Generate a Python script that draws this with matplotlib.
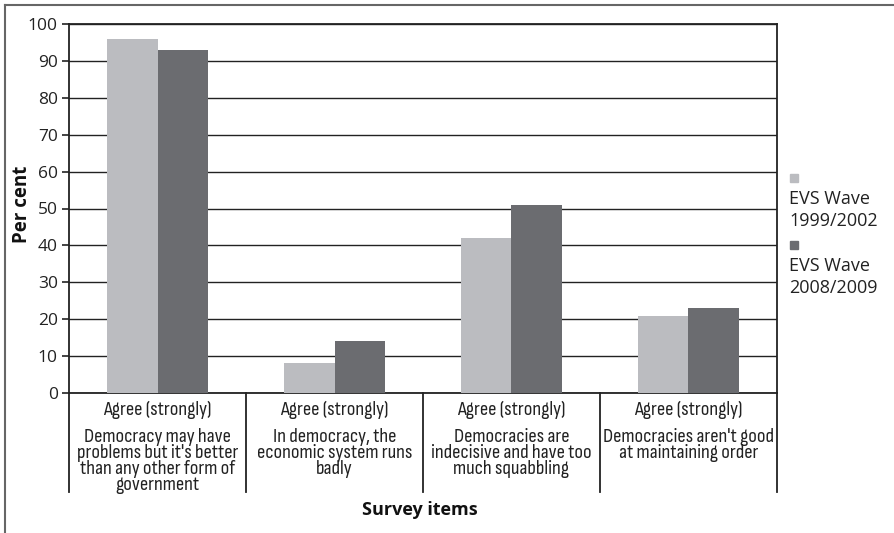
import matplotlib.pyplot as plt
from matplotlib.lines import Line2D
from matplotlib.transforms import blended_transform_factory

plt.rcParams['font.family'] = ['Open Sans', 'DejaVu Sans']
narrow = ['Sofia Sans Condensed', 'Sofia Sans Semi Condensed', 'DejaVu Sans']

items = [
    "Democracy may have\nproblems but it's better\nthan any other form of\ngovernment",
    "In democracy, the\neconomic system runs\nbadly",
    "Democracies are\nindecisive and have too\nmuch squabbling",
    "Democracies aren't good\nat maintaining order",
]
wave_1999 = [96, 8, 42, 21]
wave_2008 = [93, 14, 51, 23]
series_names = ['EVS Wave\n1999/2002', 'EVS Wave\n2008/2009']
colors = ['#bbbcc0', '#6b6c70']

fig = plt.figure(figsize=(8.95, 5.33), dpi=100)
ax = fig.add_axes([69 / 895, 1 - 393 / 533, 708 / 895, 369 / 533])

x = list(range(len(items)))
w = 0.285
ax.bar([i - w / 2 for i in x], wave_1999, w, color=colors[0], zorder=3)
ax.bar([i + w / 2 for i in x], wave_2008, w, color=colors[1], zorder=3)

ax.set_xlim(-0.5, len(items) - 0.5)
ax.set_ylim(0, 100)
ax.set_yticks(range(0, 101, 10))
ax.tick_params(axis='y', length=5, width=1.2, color='#222222', labelsize=12.5,
               labelcolor='#222222', pad=3)
ax.set_xticks([])
ax.grid(axis='y', color='#222222', linewidth=1.0, zorder=0)
for s in ax.spines.values():
    s.set_color('#222222')
    s.set_linewidth(1.3)

# category boxes below the axis
trans = blended_transform_factory(ax.transData, ax.transAxes)
drop = -(492 - 393) / 369
for b in [i - 0.5 for i in range(len(items) + 1)]:
    ax.add_line(Line2D([b, b], [0, drop], transform=trans, color='#222222',
                       linewidth=1.3, clip_on=False))
for i, txt in enumerate(items):
    ax.text(i, -(410 - 393) / 369, 'Agree (strongly)', transform=trans,
            ha='center', va='center', fontsize=14.8, family=narrow, color='#222222')
    ax.text(i, -(428 - 393) / 369, txt, transform=trans, ha='center', va='top',
            fontsize=14.8, family=narrow, color='#222222', linespacing=0.86)

fig.text(22 / 895, 1 - 204 / 533, 'Per cent', rotation=90, ha='center', va='center',
         fontsize=13.5, fontweight='bold', color='#111111')
fig.text(420 / 895, 1 - 510 / 533, 'Survey items', ha='center', va='center',
         fontsize=13, fontweight='bold', color='#111111')

# legend
leg_y = [178, 245]
for c, name, yy in zip(colors, series_names, leg_y):
    fig.patches.append(plt.Rectangle((790 / 895, 1 - (yy + 4) / 533), 8 / 895, 8 / 533,
                                     transform=fig.transFigure, color=c))
    fig.text(789 / 895, 1 - (yy + 12) / 533, name, ha='left', va='top',
             fontsize=13, color='#222222', linespacing=1.3)

# outer frame
fig.add_artist(Line2D([5 / 895, 5 / 895], [0, 1 - 5 / 533], color='#666666', linewidth=1.5))
fig.add_artist(Line2D([5 / 895, 1], [1 - 5 / 533, 1 - 5 / 533], color='#666666', linewidth=1.5))

fig.savefig('out.png', dpi=100)
